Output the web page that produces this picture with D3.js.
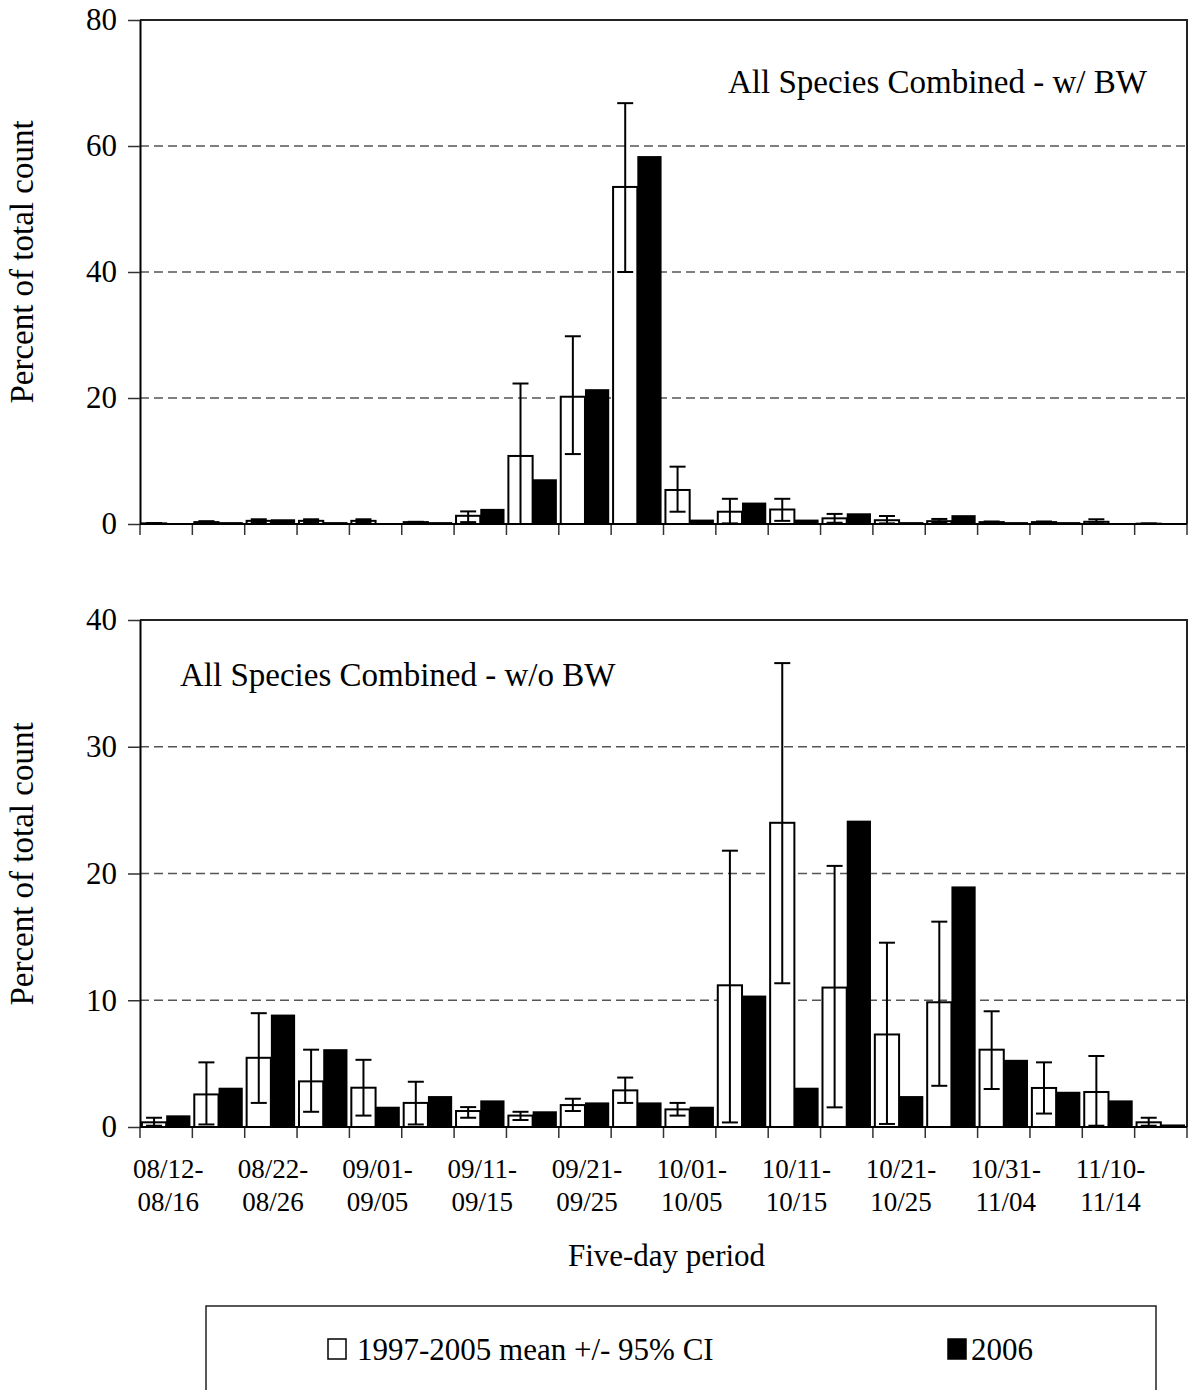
<!DOCTYPE html>
<html>
<head>
<meta charset="utf-8">
<script src="https://cdn.jsdelivr.net/npm/d3@7"></script>
<style>
  body { margin: 0; background: #fff; }
  svg text { font-family: "Liberation Serif", "Times New Roman", serif; fill: #000; }
</style>
</head>
<body>
<div id="chart"></div>
<script>
// five-day periods
const categories = ["08/12-08/16","08/17-08/21","08/22-08/26","08/27-08/31","09/01-09/05",
  "09/06-09/10","09/11-09/15","09/16-09/20","09/21-09/25","09/26-09/30",
  "10/01-10/05","10/06-10/10","10/11-10/15","10/16-10/20","10/21-10/25",
  "10/26-10/30","10/31-11/04","11/05-11/09","11/10-11/14","11/15-11/19"];

// top panel: all species with BW
const topMean = [0.1,0.3,0.5,0.5,0.5,0.3,1.3,10.8,20.2,53.5,5.4,1.95,2.3,0.9,0.6,0.45,0.3,0.3,0.35,0.05];
const topLow  = [0,0.1,0.3,0.3,0.3,0.2,0.3,0,11.1,40,1.95,0.1,0.5,0.2,0.1,0.2,0.2,0.2,0.1,0];
const topHigh = [0.15,0.45,0.75,0.75,0.75,0.35,2.0,22.3,29.8,66.8,9.1,4.0,4.0,1.6,1.27,0.8,0.4,0.4,0.75,0.1];
const top2006 = [0.05,0.3,0.75,0.3,0,0.3,2.4,7.1,21.4,58.4,0.7,3.4,0.7,1.7,0.3,1.4,0.3,0.3,0.1,0.05];

// bottom panel: all species without BW
const botMean = [0.37,2.57,5.46,3.6,3.1,1.9,1.26,0.9,1.73,2.89,1.39,11.18,24.0,11.0,7.3,9.84,6.1,3.08,2.76,0.37];
const botLow  = [0.1,0.2,1.9,1.2,0.9,0.2,0.73,0.55,1.26,1.9,0.9,0.36,11.34,1.55,0.24,3.25,3.0,1.06,0.1,0.1];
const botHigh = [0.73,5.1,8.98,6.1,5.3,3.57,1.57,1.2,2.23,3.9,1.9,21.8,36.6,20.6,14.54,16.2,9.13,5.1,5.6,0.73];
const bot2006 = [0.92,3.1,8.87,6.14,1.6,2.44,2.1,1.24,1.94,1.94,1.6,10.37,3.1,24.17,2.44,18.98,5.3,2.78,2.1,0.2];

const topTicks = [0,20,40,60,80];
const botTicks = [0,10,20,30,40];
const seriesNames = ["1997-2005 mean +/- 95% CI","2006"];

const width = 1188, height = 1390;
const left = 140, right = 1187;

const svg = d3.select("#chart").append("svg")
  .attr("width", width).attr("height", height);

const x = d3.scaleBand().domain(categories).range([left, right]);
const xInner = d3.scaleBand().domain(["mean","y2006"]).range([0, x.bandwidth()]).paddingOuter(0.08);

const drawPanel = (p) => {
  const y = d3.scaleLinear().domain([0, p.max]).range([p.y0, p.y1]);
  const g = svg.append("g");

  // dashed gridlines
  g.selectAll("line.grid")
    .data(p.ticks.slice(1, -1))
    .join("line")
    .attr("x1", left).attr("x2", right)
    .attr("y1", d => y(d)).attr("y2", d => y(d))
    .attr("stroke", "#555").attr("stroke-width", 1.3)
    .attr("stroke-dasharray", "9,5");

  // frame top + right
  g.append("path")
    .attr("d", `M${left},${p.y1}H${right}V${p.y0}`)
    .attr("fill", "none").attr("stroke", "#222").attr("stroke-width", 2);

  const data = categories.map((c, i) => ({
    c, mean: p.mean[i], low: p.low[i], high: p.high[i], v2006: p.v2006[i]
  }));

  // 2006 bars
  g.selectAll("rect.b")
    .data(data)
    .join("rect")
    .attr("x", d => x(d.c) + xInner("y2006"))
    .attr("width", xInner.bandwidth())
    .attr("y", d => y(d.v2006))
    .attr("height", d => y(0) - y(d.v2006))
    .attr("fill", "#000");

  // mean bars (hollow)
  g.selectAll("rect.m")
    .data(data)
    .join("rect")
    .attr("x", d => x(d.c) + xInner("mean"))
    .attr("width", xInner.bandwidth())
    .attr("y", d => y(d.mean))
    .attr("height", d => y(0) - y(d.mean))
    .attr("fill", "#fff").attr("stroke", "#000").attr("stroke-width", 2);

  // error bars
  const cx = d => x(d.c) + xInner("mean") + xInner.bandwidth() / 2;
  const eb = g.selectAll("g.err").data(data).join("g");
  eb.append("line")
    .attr("x1", cx).attr("x2", cx)
    .attr("y1", d => y(d.low)).attr("y2", d => y(d.high))
    .attr("stroke", "#000").attr("stroke-width", 2);
  ["low","high"].forEach(k => {
    eb.append("line")
      .attr("x1", d => cx(d) - 8).attr("x2", d => cx(d) + 8)
      .attr("y1", d => y(d[k])).attr("y2", d => y(d[k]))
      .attr("stroke", "#000").attr("stroke-width", 2);
  });

  // x axis line + boundary ticks
  const bounds = categories.map(c => x(c)).concat([right]);
  g.selectAll("line.xt")
    .data(bounds)
    .join("line")
    .attr("x1", d => d).attr("x2", d => d)
    .attr("y1", y(0)).attr("y2", y(0) + 11)
    .attr("stroke", "#333").attr("stroke-width", 1.5);
  g.append("line")
    .attr("x1", left).attr("x2", right)
    .attr("y1", y(0)).attr("y2", y(0))
    .attr("stroke", "#000").attr("stroke-width", 2);

  // y axis
  const ya = g.append("g")
    .attr("transform", `translate(${left},0)`)
    .call(d3.axisLeft(y).tickValues(p.ticks).tickSize(12).tickSizeOuter(0).tickPadding(11));
  ya.select(".domain").attr("stroke", "#000").attr("stroke-width", 2);
  ya.selectAll(".tick line").attr("stroke", "#333").attr("stroke-width", 1.5);
  ya.selectAll(".tick text")
    .attr("font-size", 31).attr("font-family", "Liberation Serif").attr("fill", "#000");

  // y title
  g.append("text")
    .attr("transform", `translate(33,${p.titleY}) rotate(-90)`)
    .attr("text-anchor", "middle")
    .attr("font-size", 33)
    .text("Percent of total count");

  // annotation
  g.append("text")
    .attr("x", p.noteX).attr("y", p.noteY)
    .attr("font-size", 33)
    .text(p.note);

  return y;
};

drawPanel({ max: 80, ticks: topTicks, y0: 524, y1: 20,
  mean: topMean, low: topLow, high: topHigh, v2006: top2006,
  titleY: 262, note: "All Species Combined - w/ BW", noteX: 728, noteY: 93 });

drawPanel({ max: 40, ticks: botTicks, y0: 1127, y1: 620,
  mean: botMean, low: botLow, high: botHigh, v2006: bot2006,
  titleY: 864, note: "All Species Combined - w/o BW", noteX: 180, noteY: 686 });

// x labels every other period, two lines
const labels = svg.append("g").selectAll("text")
  .data(categories.filter((c, i) => i % 2 === 0))
  .join("text")
  .attr("text-anchor", "middle")
  .attr("font-size", 27)
  .attr("transform", d => `translate(${x(d) + x.bandwidth() / 2 + 2},0)`);
labels.append("tspan").attr("x", 0).attr("y", 1178).text(d => d.split("-")[0] + "-");
labels.append("tspan").attr("x", 0).attr("y", 1211).text(d => d.split("-")[1]);

svg.append("text")
  .attr("x", (left + right) / 2 + 3).attr("y", 1266)
  .attr("text-anchor", "middle").attr("font-size", 31)
  .text("Five-day period");

// legend
const lg = svg.append("g");
lg.append("rect")
  .attr("x", 206).attr("y", 1306).attr("width", 950).attr("height", 100)
  .attr("fill", "#fff").attr("stroke", "#222").attr("stroke-width", 1.5);
const legendItems = [
  { name: seriesNames[0], fill: "#fff", x: 328, gap: 29 },
  { name: seriesNames[1], fill: "#000", x: 948, gap: 23 }
];
lg.selectAll("rect.key")
  .data(legendItems)
  .join("rect")
  .attr("x", d => d.x).attr("y", 1339)
  .attr("width", 18).attr("height", 20)
  .attr("fill", d => d.fill).attr("stroke", "#000").attr("stroke-width", 1.5);
lg.selectAll("text")
  .data(legendItems)
  .join("text")
  .attr("x", d => d.x + d.gap).attr("y", 1360)
  .attr("font-size", 31)
  .text(d => d.name);
</script>
</body>
</html>
